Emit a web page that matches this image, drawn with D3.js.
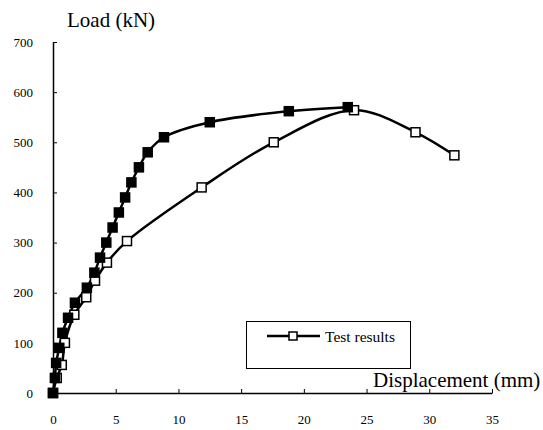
<!DOCTYPE html>
<html><head><meta charset="utf-8">
<script src="https://cdn.jsdelivr.net/npm/d3@7/dist/d3.min.js"></script>
<style>body{margin:0;background:#fff}svg{display:block}
svg text{font-family:"Liberation Serif","Times New Roman","DejaVu Serif",serif !important;}</style>
</head><body>
<script>
const xTicks = [0,5,10,15,20,25,30,35];
const yTicks = [0,100,200,300,400,500,600,700];
const filledDisp = [0,0.15,0.25,0.5,0.75,1.2,1.75,2.7,3.3,3.75,4.25,4.75,5.25,5.75,6.25,6.85,7.55,8.85,12.5,18.8,23.5];
const filledLoad = [0,30,60,90,120,150,180,210,240,270,300,330,360,390,420,450,480,510,540,562,570];
const openDisp = [0,0.3,0.7,0.95,1.7,2.65,3.35,4.3,5.9,11.85,17.6,24.0,28.9,32.0];
const openLoad = [0,30,56,100,156,191,224,260,303,410,500,564,520,474];
const legendLabel = "Test results";

const W=543,H=430;
const svg=d3.select("body").append("svg").attr("width",W).attr("height",H);
const x=d3.scaleLinear().domain([0,35]).range([53,492]);
const y=d3.scaleLinear().domain([0,700]).range([393,42]);

// axes
const xa=svg.append("g").attr("transform","translate(0,393)")
  .call(d3.axisBottom(x).tickValues(xTicks).tickSizeInner(-4).tickSizeOuter(0).tickPadding(22));
const ya=svg.append("g").attr("transform","translate(53,0)")
  .call(d3.axisLeft(y).tickValues(yTicks).tickSizeInner(-4).tickSizeOuter(0).tickPadding(20));
[xa,ya].forEach(g=>{
  g.attr("font-family",null);
  g.selectAll("path").attr("stroke","#000").attr("stroke-width",1.5);
  g.selectAll("line").attr("stroke","#000").attr("stroke-width",1);
  g.selectAll("text").attr("font-size",13).attr("fill","#000");
});
ya.selectAll(".tick").filter(d=>d===0).select("line").remove();
xa.selectAll(".tick").filter(d=>d===0).select("line").remove();

svg.append("text").attr("x",67).attr("y",27).attr("font-size",21).text("Load (kN)");
svg.append("text").attr("x",373).attr("y",387).attr("font-size",21).text("Displacement (mm)");

const line=d3.line().x(d=>x(d[0])).y(d=>y(d[1])).curve(d3.curveCatmullRom.alpha(0.5));
const filled=filledDisp.map((d,i)=>[d,filledLoad[i]]);
const open=openDisp.map((d,i)=>[d,openLoad[i]]);

[open,filled].forEach(data=>{
  svg.append("path").datum(data).attr("d",line).attr("fill","none").attr("stroke","#000").attr("stroke-width",2.5);
});
const s=9;
svg.append("g").selectAll("rect").data(open).join("rect")
  .attr("x",d=>x(d[0])-s/2).attr("y",d=>y(d[1])-s/2).attr("width",s).attr("height",s)
  .attr("fill","#fff").attr("stroke","#000").attr("stroke-width",1.5);
svg.append("g").selectAll("rect").data(filled).join("rect")
  .attr("x",d=>x(d[0])-s/2).attr("y",d=>y(d[1])-s/2).attr("width",s).attr("height",s)
  .attr("fill","#000").attr("stroke","#000").attr("stroke-width",1.5);

// legend
const lg=svg.append("g");
lg.append("rect").attr("x",246.5).attr("y",321.5).attr("width",164).attr("height",47).attr("fill","#fff").attr("stroke","#000").attr("stroke-width",1);
lg.append("line").attr("x1",267).attr("x2",320).attr("y1",336).attr("y2",336).attr("stroke","#000").attr("stroke-width",2.5);
lg.append("rect").attr("x",289).attr("y",332).attr("width",8).attr("height",8).attr("fill","#fff").attr("stroke","#000").attr("stroke-width",1.5);
lg.append("text").attr("x",325).attr("y",341.5).attr("font-size",15.5).text(legendLabel);
</script>
</body></html>
